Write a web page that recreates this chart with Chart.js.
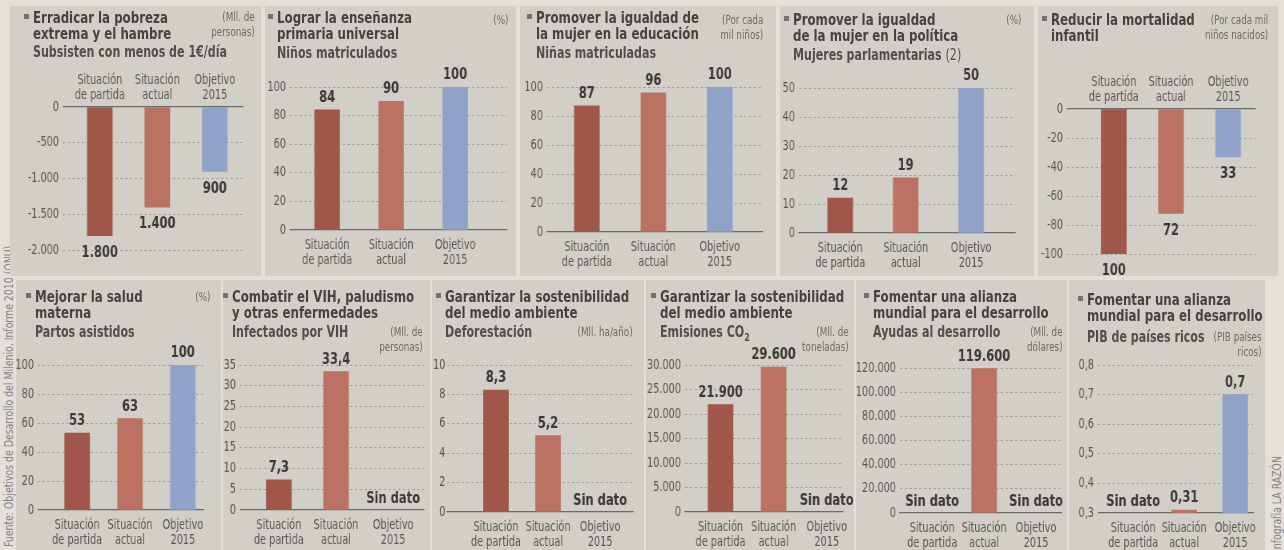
<!DOCTYPE html>
<html lang="es">
<head>
<meta charset="utf-8">
<title>Objetivos de Desarrollo del Milenio</title>
<script src="https://cdn.jsdelivr.net/npm/chart.js@4.4.1/dist/chart.umd.min.js"></script>
<style>
  html, body { margin: 0; padding: 0; }
  body {
    width: 1284px; height: 550px; position: relative; overflow: hidden;
    background: #e3e0d9;
    font-family: "DejaVu Sans Condensed", "DejaVu Sans", sans-serif;
  }
  .panel { position: absolute; background: #d2cfc8; }
  .panel canvas { position: absolute; left: 0; top: 0; transform-origin: left top; }
  .txt { position: absolute; white-space: nowrap; transform-origin: left top; transform: scaleX(0.82); }
  .title { font-weight: bold; font-size: 16px; line-height: 16px; color: #46433f; }
  .sub { font-weight: bold; font-size: 15px; line-height: 16px; color: #524f4b; }
  .unit { font-size: 12.5px; line-height: 15px; color: #6e6b66; text-align: right; transform-origin: right top; transform: scaleX(0.78); }
  .bullet { position: absolute; width: 5px; height: 5px; background: #75726d; }
  .vert {
    position: absolute; transform-origin: left top; transform: rotate(-90deg) scaleX(0.8);
    font-size: 13px; line-height: 14px; color: #86837d; white-space: nowrap;
  }
</style>
</head>
<body>
<div class="vert" style="left:2px; top:547px;">Fuente: Objetivos de Desarrollo del Milenio, Informe 2010 (ONU)</div>
<div class="vert" style="left:1270px; top:552px;">Infografía LA RAZÓN</div>
<script>
// Categorías comunes a todos los gráficos
const categories = [['Situación', 'de partida'], ['Situación', 'actual'], ['Objetivo', '2015']];

// Valores (null = sin dato)
const pobreza = [-1800, -1400, -900];
const ensenanza = [84, 90, 100];
const educacionMujer = [87, 96, 100];
const politicaMujer = [12, 19, 50];
const mortalidad = [-100, -72, -33];
const saludMaterna = [53, 63, 100];
const vih = [7.3, 33.4, null];
const deforestacion = [8.3, 5.2, null];
const emisiones = [21900, 29600, null];
const ayudas = [null, 119600, null];
const pibRicos = [null, 0.31, 0.7];

// Marcas del eje Y
const ticksPobreza = [0, -500, -1000, -1500, -2000];
const ticksPct = [0, 20, 40, 60, 80, 100];
const ticksPolitica = [0, 10, 20, 30, 40, 50];
const ticksMortalidad = [0, -20, -40, -60, -80, -100];
const ticksVih = [0, 5, 10, 15, 20, 25, 30, 35];
const ticksDeforestacion = [0, 2, 4, 6, 8, 10];
const ticksEmisiones = [0, 5000, 10000, 15000, 20000, 25000, 30000];
const ticksAyudas = [0, 20000, 40000, 60000, 80000, 100000, 120000];
const ticksPib = [0.3, 0.4, 0.5, 0.6, 0.7, 0.8];

const barColors = ['#a0574a', '#bb7262', '#8fa3c8'];
const fontFamily = '"DejaVu Sans Condensed", "DejaVu Sans", sans-serif';
const SX = 0.8; // compresión horizontal del lienzo (tipografía estrecha)

// box: [x, y, w, h]; plot: [izq, der, arriba, abajo] en px de página
const panels = [
  { box: [10, 6, 251, 270], plot: [63, 243, 107, 250], xTop: true, xr: [-0.64, 2.49],
    values: pobreza, ticks: ticksPobreza,
    title: { x: 33, y: 18, lines: ['Erradicar la pobreza', 'extrema y el hambre'] },
    sub: { y: 52, html: 'Subsisten con menos de 1€/día' },
    unit: { x: 255, y: 17, lines: ['(Mll. de', 'personas)'] } },
  { box: [265, 6, 251, 270], plot: [290, 507, 87, 230], xr: [-0.58, 2.81],
    values: ensenanza, ticks: ticksPct,
    title: { x: 277, y: 18, lines: ['Lograr la enseñanza', 'primaria universal'] },
    sub: { y: 53, html: 'Niños matriculados' },
    unit: { x: 508, y: 20, lines: ['(%)'] } },
  { box: [520, 6, 256, 270], plot: [547, 763, 87, 232], xr: [-0.6, 2.65],
    values: educacionMujer, ticks: ticksPct,
    title: { x: 536, y: 18, lines: ['Promover la igualdad de', 'la mujer en la educación'] },
    sub: { y: 53, html: 'Niñas matriculadas' },
    unit: { x: 763, y: 20, lines: ['(Por cada', 'mil niños)'] } },
  { box: [780, 6, 254, 270], plot: [799, 1015, 88, 233], xr: [-0.63, 2.67],
    values: politicaMujer, ticks: ticksPolitica,
    title: { x: 793, y: 20, lines: ['Promover la igualdad', 'de la mujer en la política'] },
    sub: { y: 55, html: 'Mujeres parlamentarias <span style="font-weight:normal">(2)</span>' },
    unit: { x: 1021, y: 20, lines: ['(%)'] } },
  { box: [1038, 6, 240, 270], plot: [1067, 1255, 109, 254], xTop: true, xr: [-0.82, 2.47],
    values: mortalidad, ticks: ticksMortalidad,
    title: { x: 1051, y: 20, lines: ['Reducir la mortalidad', 'infantil'] },
    sub: null,
    unit: { x: 1268, y: 20, lines: ['(Por cada mil', 'niños nacidos)'] } },
  { box: [16, 280, 205, 270], plot: [38, 204, 365, 510], xr: [-0.74, 2.4],
    values: saludMaterna, ticks: ticksPct,
    title: { x: 35, y: 297, lines: ['Mejorar la salud', 'materna'] },
    sub: { y: 332, html: 'Partos asistidos' },
    unit: { x: 210, y: 297, lines: ['(%)'] } },
  { box: [223, 280, 207, 270], plot: [240, 424, 365, 510], xr: [-0.68, 2.54],
    values: vih, ticks: ticksVih,
    title: { x: 232, y: 297, lines: ['Combatir el VIH, paludismo', 'y otras enfermedades'] },
    sub: { y: 332, html: 'Infectados por VIH' },
    unit: { x: 423, y: 332, lines: ['(Mll. de', 'personas)'] } },
  { box: [432, 280, 212, 270], plot: [447, 633, 365, 512], xr: [-0.94, 2.63], tickPad: 2,
    values: deforestacion, ticks: ticksDeforestacion,
    title: { x: 445, y: 297, lines: ['Garantizar la sostenibilidad', 'del medio ambiente'] },
    sub: { y: 332, html: 'Deforestación' },
    unit: { x: 633, y: 332, lines: ['(Mll. ha/año)'] } },
  { box: [646, 280, 208, 270], plot: [685, 849, 365, 512], xr: [-0.67, 2.31],
    values: emisiones, ticks: ticksEmisiones,
    title: { x: 660, y: 297, lines: ['Garantizar la sostenibilidad', 'del medio ambiente'] },
    sub: { y: 332, html: 'Emisiones CO<sub style="font-size:11px">2</sub>' },
    unit: { x: 849, y: 332, lines: ['(Mll. de', 'toneladas)'] } },
  { box: [856, 280, 211, 270], plot: [900, 1062, 368, 513], xr: [-0.62, 2.5],
    values: ayudas, ticks: ticksAyudas,
    title: { x: 873, y: 297, lines: ['Fomentar una alianza', 'mundial para el desarrollo'] },
    sub: { y: 332, html: 'Ayudas al desarrollo' },
    unit: { x: 1063, y: 332, lines: ['(Mll. de', 'dólares)'] } },
  { box: [1069, 280, 196, 270], plot: [1098, 1253, 365, 513], xr: [-0.69, 2.35],
    values: pibRicos, ticks: ticksPib,
    title: { x: 1087, y: 300, lines: ['Fomentar una alianza', 'mundial para el desarrollo'] },
    sub: { y: 337, html: 'PIB de países ricos' },
    unit: { x: 1262, y: 337, lines: ['(PIB países', 'ricos)'] } }
];

// Formato español: 1.800 / 33,4
function fmt(v) {
  const parts = String(Math.abs(v)).split('.');
  parts[0] = parts[0].replace(/\B(?=(\d{3})+(?!\d))/g, '.');
  return (v < 0 ? '-' : '') + parts.join(',');
}

// Etiquetas de valor y "Sin dato"
const valueLabels = {
  id: 'valueLabels',
  afterDatasetsDraw(chart, args, opts) {
    const { ctx } = chart;
    const meta = chart.getDatasetMeta(0);
    const xScale = chart.scales.x;
    const base = chart.scales.y.getPixelForValue(opts.base);
    ctx.save();
    ctx.font = 'bold 16px ' + fontFamily;
    ctx.fillStyle = '#3b3936';
    ctx.textAlign = 'center';
    chart.data.datasets[0].data.forEach((pt, i) => {
      const x = xScale.getPixelForValue(pt.x);
      if (pt.y === null) {
        ctx.textBaseline = 'bottom';
        ctx.fillText('Sin dato', x, base - 3);
        return;
      }
      const bar = meta.data[i];
      if (pt.y < 0) {
        ctx.textBaseline = 'top';
        ctx.fillText(fmt(-pt.y), x, bar.y + 9);
      } else {
        ctx.textBaseline = 'bottom';
        ctx.fillText(fmt(pt.y), x, Math.min(bar.y, base - 3) - 4);
      }
    });
    ctx.restore();
  }
};

panels.forEach(p => {
  const [bx, by, bw, bh] = p.box;
  const [L, R, T, B] = p.plot;

  const div = document.createElement('div');
  div.className = 'panel';
  div.style.cssText = `left:${bx}px; top:${by}px; width:${bw}px; height:${bh}px;`;
  const canvas = document.createElement('canvas');
  canvas.width = Math.round(bw / SX);
  canvas.height = bh;
  canvas.style.transform = `scaleX(${bw / Math.round(bw / SX)})`;
  div.appendChild(canvas);
  document.body.appendChild(div);

  // Textos
  const t = document.createElement('div');
  t.className = 'txt title';
  t.style.cssText = `left:${p.title.x}px; top:${p.title.y - 8}px;`;
  t.innerHTML = p.title.lines.join('<br>');
  document.body.appendChild(t);
  const bul = document.createElement('div');
  bul.className = 'bullet';
  bul.style.cssText = `left:${p.title.x - 9}px; top:${p.title.y - 4}px;`;
  document.body.appendChild(bul);
  if (p.sub) {
    const s = document.createElement('div');
    s.className = 'txt sub';
    s.style.cssText = `left:${p.title.x}px; top:${p.sub.y - 8}px;`;
    s.innerHTML = p.sub.html;
    document.body.appendChild(s);
  }
  const u = document.createElement('div');
  u.className = 'txt unit';
  u.style.cssText = `right:${1284 - p.unit.x}px; top:${p.unit.y - 8}px;`;
  u.innerHTML = p.unit.lines.join('<br>');
  document.body.appendChild(u);

  const k = Math.round(bw / SX) / bw; // px de página -> px de lienzo
  const yMin = Math.min(...p.ticks);
  const yMax = Math.max(...p.ticks);
  const baseline = p.xTop ? yMax : yMin;
  const xAxisH = p.xTop ? 40 : (by + bh - B);
  const padTop = p.xTop ? (T - by - xAxisH) : (T - by);
  const padBottom = p.xTop ? (by + bh - B) : 0;

  new Chart(canvas.getContext('2d'), {
    type: 'bar',
    data: {
      datasets: [{
        data: p.values.map((v, i) => ({ x: i, y: v })),
        backgroundColor: barColors,
        borderWidth: 0,
        barThickness: 25 * k
      }]
    },
    options: {
      responsive: false,
      animation: false,
      layout: { padding: { top: padTop, bottom: padBottom, left: 0, right: (bx + bw - R) * k } },
      plugins: {
        legend: { display: false },
        tooltip: { enabled: false },
        valueLabels: { base: baseline }
      },
      scales: {
        x: {
          type: 'linear',
          position: p.xTop ? 'top' : 'bottom',
          offset: false,
          min: p.xr[0],
          max: p.xr[1],
          afterBuildTicks: scale => { scale.ticks = categories.map((c, i) => ({ value: i })); },
          afterFit: scale => { scale.height = xAxisH; },
          grid: { display: true, offset: false, drawOnChartArea: false, drawTicks: false },
          border: { display: true, color: '#6d6a66', width: 1.2 },
          ticks: {
            autoSkip: false,
            maxRotation: 0,
            padding: p.xTop ? 4 : 8,
            color: '#5a5753',
            font: { family: fontFamily, size: 13.5, lineHeight: 1.12 },
            callback: v => categories[v]
          }
        },
        y: {
          min: yMin,
          max: yMax,
          afterBuildTicks: scale => { scale.ticks = p.ticks.map(v => ({ value: v })); },
          afterFit: scale => { scale.width = (L - bx) * k; },
          grid: {
            drawTicks: false,
            color: c => (c.tick && c.tick.value === baseline) ? 'rgba(0,0,0,0)' : '#a3a09a',
            lineWidth: 1
          },
          border: { display: false, dash: [3, 3] },
          ticks: {
            padding: p.tickPad || 5,
            color: '#5a5753',
            font: { family: fontFamily, size: 13.5 },
            callback: v => fmt(v)
          }
        }
      }
    },
    plugins: [valueLabels]
  });
});
</script>
</body>
</html>
